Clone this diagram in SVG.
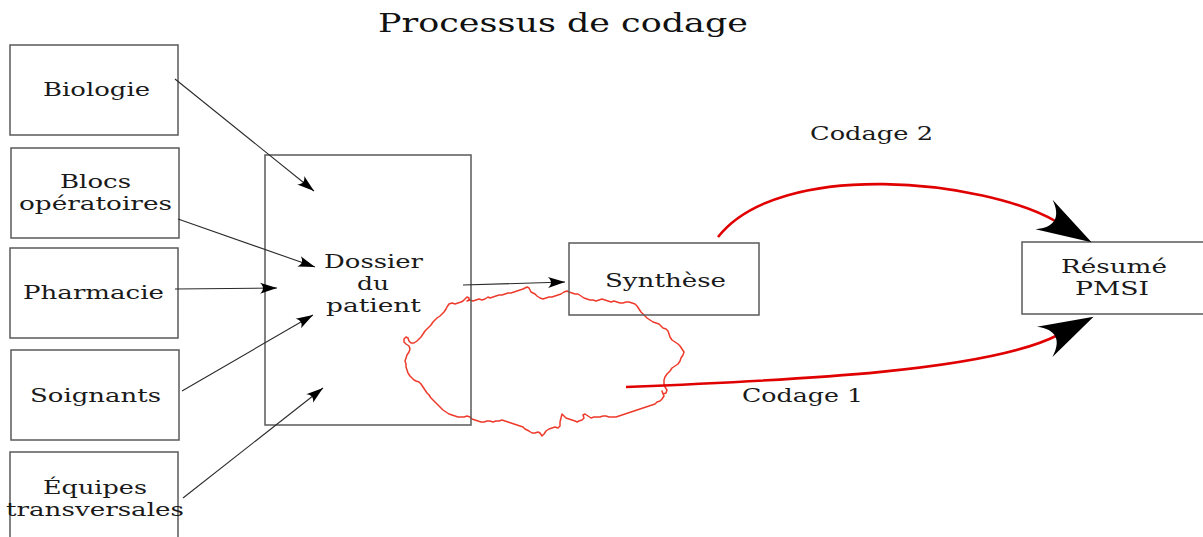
<svg xmlns="http://www.w3.org/2000/svg" width="1203" height="537" viewBox="0 0 1203 537">
  <style>
    .box { fill: #ffffff; stroke: #5a5a5a; stroke-width: 1.5; }
    .lbl { font-family: "DejaVu Serif", "Liberation Serif", serif; font-size: 19px; fill: #1a1a1a; }
    .title { font-family: "DejaVu Serif", "Liberation Serif", serif; font-size: 26px; fill: #111111; }
    .feed { fill: none; stroke: #2a2a2a; stroke-width: 1.1; }
    .code { fill: none; stroke: #e00000; stroke-width: 2.6; }
    .scribble { fill: none; stroke: #ee3a2b; stroke-width: 1.5; stroke-linejoin: round; }
  </style>
  <defs>
    <!-- small notched arrowhead; reference point at the tip -->
    <marker id="tip" markerUnits="userSpaceOnUse" viewBox="-18 -6 19 12" refX="0" refY="0" markerWidth="19" markerHeight="12" orient="auto" overflow="visible">
      <path d="M0,0 L-17,-5.5 C-13,-2 -13,2 -17,5.5 Z" fill="#000000"/>
    </marker>
    <!-- large notched arrowhead; reference point at the inner notch -->
    <marker id="bigtip" markerUnits="userSpaceOnUse" viewBox="-20 -20 62 40" refX="0" refY="0" markerWidth="62" markerHeight="40" orient="auto" overflow="visible">
      <path d="M40,0 L-15,-17 C1,-6 1,6 -15,17 Z" fill="#000000"/>
    </marker>
  </defs>

  <rect x="0" y="0" width="1203" height="537" fill="#ffffff"/>

  <text class="title" x="378" y="32" textLength="370" lengthAdjust="spacingAndGlyphs">Processus de codage</text>

  <!-- irregular hand-drawn loop around the synthesis step -->
  <path class="scribble" d="M447,307 L449,304 452,303 455,304 458,303 461,302 463,301 465,299 467,297 469,298 469,300 467,301 470,300 473,301 476,300 479,299 482,300 485,299 488,297 490,298 493,297 496,296 499,295 502,295 505,294 508,293 511,293 514,292 517,291 520,290 523,289 525,288 527,287 529,288 530,290 531,292 533,293 535,294 537,296 540,298 543,299 546,298 549,297 552,297 555,296 558,295 561,294 564,292 567,291 569,292 572,293 575,294 578,294 581,296 584,298 587,299 590,300 593,300 596,301 599,300 602,299 605,300 608,301 611,302 614,301 617,302 620,303 623,303 626,302 629,302 632,303 635,304 637,306 639,309 641,312 643,314 645,316 647,318 650,320 653,322 656,323 659,324 661,326 663,328 666,329 668,331 669,334 670,337 672,340 675,342 678,344 680,346 682,349 684,352 683,355 681,358 680,361 678,364 675,366 672,368 670,371 667,374 665,377 664,380 664,384 665,387 667,390 666,393 663,394 662,391 664,396 662,399 660,401 657,402 655,404 652,405 649,406 646,407 643,408 640,409 637,410 634,411 631,412 628,413 625,414 622,415 619,416 616,417 612,417 609,417 606,416 603,416 600,417 597,417 594,417 591,418 588,416 585,414 583,415 584,418 582,420 579,421 577,422 575,421 572,420 569,419 566,418 564,416 562,414 561,418 560,422 560,426 558,428 555,427 552,428 549,429 546,431 544,434 542,436 540,433 538,432 535,433 532,433 529,431 527,430 525,429 523,427 520,426 517,425 514,424 511,423 508,422 505,421 502,420 499,421 496,421 493,422 490,421 487,421 484,422 481,422 478,421 475,420 472,419 470,417 467,416 464,417 461,417 458,417 455,416 452,415 449,414 446,412 443,410 441,408 439,406 437,404 435,402 433,400 431,398 429,395 427,393 425,390 423,387 421,384 419,382 416,381 414,380 412,378 410,376 408,373 407,370 406,367 406,364 405,361 406,358 407,355 409,352 410,349 409,346 406,344 404,342 404,339 406,337 408,338 409,341 411,343 414,343 417,341 419,339 421,337 423,334 425,331 427,329 429,327 431,325 433,322 435,320 437,318 440,316 442,314 444,312 446,309 Z"/>

  <g id="node-biologie">
    <rect class="box" x="10" y="45" width="168" height="90"/>
    <text class="lbl" x="43" y="96" textLength="107" lengthAdjust="spacingAndGlyphs">Biologie</text>
  </g>
  <g id="node-blocs">
    <rect class="box" x="11" y="148" width="168" height="90"/>
    <text class="lbl" x="60" y="188" textLength="71" lengthAdjust="spacingAndGlyphs">Blocs</text>
    <text class="lbl" x="19" y="210" textLength="153" lengthAdjust="spacingAndGlyphs">opératoires</text>
  </g>
  <g id="node-pharmacie">
    <rect class="box" x="10" y="248" width="168" height="90"/>
    <text class="lbl" x="23" y="299" textLength="141" lengthAdjust="spacingAndGlyphs">Pharmacie</text>
  </g>
  <g id="node-soignants">
    <rect class="box" x="11" y="350" width="168" height="90"/>
    <text class="lbl" x="30" y="402" textLength="131" lengthAdjust="spacingAndGlyphs">Soignants</text>
  </g>
  <g id="node-equipes">
    <rect class="box" x="10" y="452" width="168" height="100"/>
    <text class="lbl" x="43" y="494" textLength="104" lengthAdjust="spacingAndGlyphs">Équipes</text>
    <text class="lbl" x="6" y="516" textLength="178" lengthAdjust="spacingAndGlyphs">transversales</text>
  </g>
  <g id="node-dossier">
    <rect class="box" x="265" y="155" width="206" height="270" style="fill:none"/>
    <text class="lbl" x="324" y="268" textLength="99" lengthAdjust="spacingAndGlyphs">Dossier</text>
    <text class="lbl" x="357" y="290" textLength="32" lengthAdjust="spacingAndGlyphs">du</text>
    <text class="lbl" x="326" y="312" textLength="95" lengthAdjust="spacingAndGlyphs">patient</text>
  </g>
  <g id="node-synthese">
    <rect class="box" x="569" y="243" width="190" height="72" style="fill:none"/>
    <text class="lbl" x="605" y="287" textLength="121" lengthAdjust="spacingAndGlyphs">Synthèse</text>
  </g>
  <g id="node-resume">
    <rect class="box" x="1022" y="242" width="190" height="72"/>
    <text class="lbl" x="1061" y="273" textLength="106" lengthAdjust="spacingAndGlyphs">Résumé</text>
    <text class="lbl" x="1075" y="295" textLength="74" lengthAdjust="spacingAndGlyphs">PMSI</text>
  </g>

  <g id="connectors">
    <line class="feed" x1="175" y1="79" x2="314" y2="191" marker-end="url(#tip)"/>
    <line class="feed" x1="178" y1="219" x2="315" y2="267" marker-end="url(#tip)"/>
    <line class="feed" x1="175" y1="289" x2="277" y2="288" marker-end="url(#tip)"/>
    <line class="feed" x1="182" y1="391" x2="313" y2="315" marker-end="url(#tip)"/>
    <line class="feed" x1="183" y1="498" x2="323" y2="388" marker-end="url(#tip)"/>
    <line class="feed" x1="463" y1="285" x2="565" y2="282" marker-end="url(#tip)"/>
    <path class="code" d="M718,237 C780,158 985,180 1057,222" marker-end="url(#bigtip)"/>
    <path class="code" d="M626,387 C800,380 988,371 1058,335" marker-end="url(#bigtip)"/>
    <text class="lbl" x="810" y="140" textLength="123" lengthAdjust="spacingAndGlyphs" style="font-size:18.5px">Codage 2</text>
    <text class="lbl" x="742" y="402" textLength="121" lengthAdjust="spacingAndGlyphs" style="font-size:18.5px">Codage 1</text>
  </g>
</svg>
